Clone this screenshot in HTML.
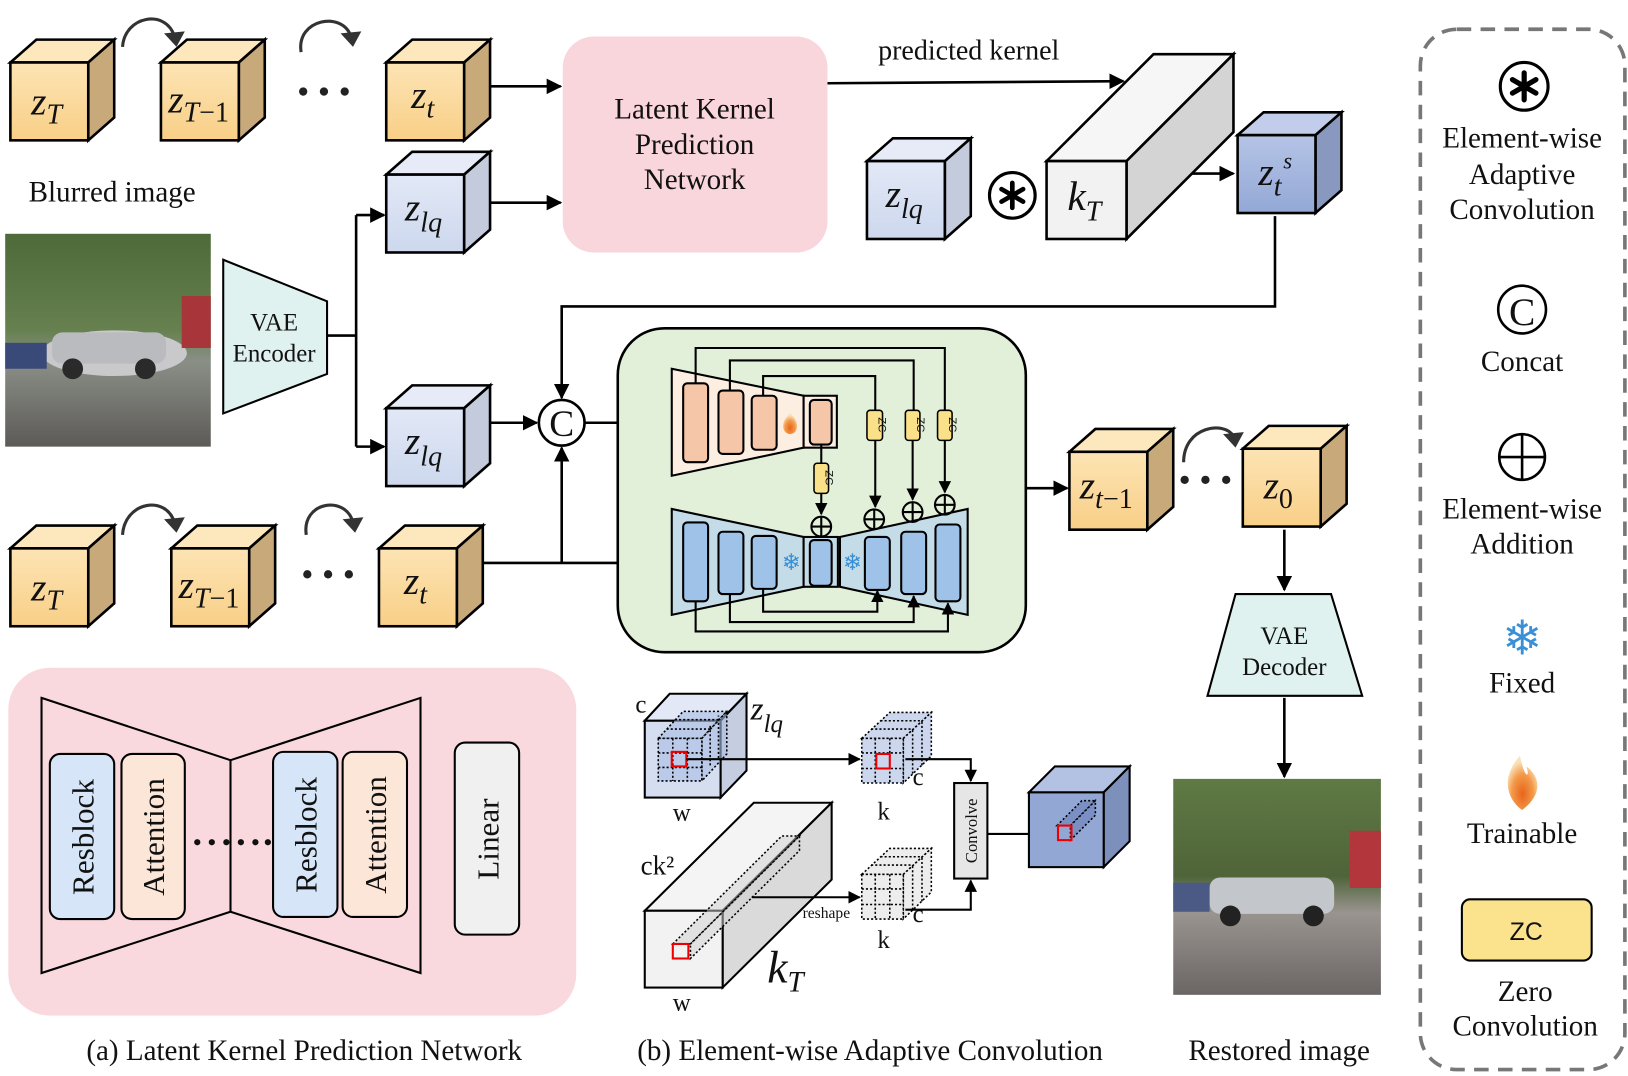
<!DOCTYPE html>
<html><head><meta charset="utf-8"><style>
html,body{margin:0;padding:0;background:#fff}
svg{display:block}
text{font-family:"Liberation Serif",serif;fill:#111}
.zi{font-style:italic}
</style></head><body>
<svg width="1628" height="1076" viewBox="0 0 1568 1036" xmlns="http://www.w3.org/2000/svg">
<defs>
<marker id="ar" viewBox="0 0 10 10" refX="9" refY="5" markerWidth="6" markerHeight="6" orient="auto-start-reverse"><path d="M0,0L10,5L0,10z" fill="#000"/></marker>
<linearGradient id="og" x1="0" y1="0" x2="0" y2="1"><stop offset="0" stop-color="#fde4b4"/><stop offset="1" stop-color="#f8cf87"/></linearGradient>
<linearGradient id="bg" x1="0" y1="0" x2="0" y2="1"><stop offset="0" stop-color="#e2e8f6"/><stop offset="1" stop-color="#cdd8ee"/></linearGradient>
<linearGradient id="dbg" x1="0" y1="0" x2="0" y2="1"><stop offset="0" stop-color="#b5c4e6"/><stop offset="1" stop-color="#93a8d6"/></linearGradient>
<symbol id="oc" overflow="visible"><polygon points="0,0 25,-22 100,-22 75,0" fill="#fde7bd" stroke="#000" stroke-width="2.5"/><polygon points="75,0 100,-22 100,53 75,75" fill="#c8a97a" stroke="#000" stroke-width="2.5"/><rect x="0" y="0" width="75" height="75" fill="url(#og)" stroke="#000" stroke-width="2.5"/></symbol>
<symbol id="bc" overflow="visible"><polygon points="0,0 25,-22 100,-22 75,0" fill="#e6ebf7" stroke="#000" stroke-width="2.5"/><polygon points="75,0 100,-22 100,53 75,75" fill="#c3cbdc" stroke="#000" stroke-width="2.5"/><rect x="0" y="0" width="75" height="75" fill="url(#bg)" stroke="#000" stroke-width="2.5"/></symbol>
<symbol id="dc" overflow="visible"><polygon points="0,0 25,-22 100,-22 75,0" fill="#c1cdea" stroke="#000" stroke-width="2.5"/><polygon points="75,0 100,-22 100,53 75,75" fill="#8898bf" stroke="#000" stroke-width="2.5"/><rect x="0" y="0" width="75" height="75" fill="url(#dbg)" stroke="#000" stroke-width="2.5"/></symbol>
<linearGradient id="sky" x1="0" y1="0" x2="0" y2="1"><stop offset="0" stop-color="#4d6a38"/><stop offset=".45" stop-color="#66804f"/><stop offset=".6" stop-color="#8a8f86"/><stop offset="1" stop-color="#5d5a58"/></linearGradient>
<linearGradient id="sky2" x1="0" y1="0" x2="0" y2="1"><stop offset="0" stop-color="#5f7a44"/><stop offset=".45" stop-color="#4f6439"/><stop offset=".62" stop-color="#9a9490"/><stop offset="1" stop-color="#6a6664"/></linearGradient>
<radialGradient id="fl" cx=".5" cy=".7" r=".6"><stop offset="0" stop-color="#e8641a"/><stop offset=".6" stop-color="#f39a4a"/><stop offset="1" stop-color="#fbe1b8"/></radialGradient>
</defs>

<!-- top row -->
<use href="#oc" x="10" y="60"/><text x="30" y="110" font-size="38" class="zi">z<tspan font-size="27" dy="9">T</tspan></text>
<use href="#oc" x="155" y="60"/><text x="162" y="108" font-size="38" class="zi">z<tspan font-size="27" dy="9">T</tspan><tspan font-size="27" font-style="normal">−1</tspan></text>
<use href="#oc" x="372" y="60"/><text x="396" y="104" font-size="38" class="zi">z<tspan font-size="27" dy="9">t</tspan></text>
<path d="M118,45 C120,15 160,8 168,35" fill="none" stroke="#333" stroke-width="3"/><path d="M158,32 L178,30 L170,45z" fill="#333"/>
<path d="M290,50 C285,18 330,10 338,35" fill="none" stroke="#333" stroke-width="3"/><path d="M328,32 L348,30 L340,45z" fill="#333"/>
<g fill="#222"><circle cx="292" cy="88" r="4"/><circle cx="312" cy="88" r="4"/><circle cx="332" cy="88" r="4"/></g>
<text x="108" y="194" font-size="28" text-anchor="middle">Blurred image</text>

<!-- blurred photo -->
<rect x="5" y="225" width="198" height="205" fill="url(#sky)"/>
<ellipse cx="110" cy="340" rx="70" ry="22" fill="#c9c9cb"/><rect x="50" y="320" width="110" height="30" rx="10" fill="#b9bbbe"/>
<circle cx="70" cy="355" r="10" fill="#2a2a2a"/><circle cx="140" cy="355" r="10" fill="#2a2a2a"/>
<rect x="5" y="330" width="40" height="25" fill="#3a4a78"/><rect x="175" y="285" width="28" height="50" fill="#a8353a"/>

<!-- VAE encoder -->
<polygon points="215,250 315,290 315,360 215,398" fill="#e0f2ef" stroke="#000" stroke-width="2"/>
<text x="264" y="318" font-size="24" text-anchor="middle">VAE</text><text x="264" y="348" font-size="24" text-anchor="middle">Encoder</text>
<g stroke="#000" stroke-width="2.5" fill="none">
<path d="M315,323 H343 M343,207 V430"/>
<path d="M343,207 H370" marker-end="url(#ar)"/><path d="M343,430 H370" marker-end="url(#ar)"/>
<path d="M472,83 H540" marker-end="url(#ar)"/><path d="M472,195 H540" marker-end="url(#ar)"/>
<path d="M797,80 L1082,78" marker-end="url(#ar)"/>
<path d="M1130,167 H1188" marker-end="url(#ar)"/>
<path d="M1228,208 V295 H541 V383" marker-end="url(#ar)"/>
<path d="M472,407 H517" marker-end="url(#ar)"/>
<path d="M563,407 H644" marker-end="url(#ar)"/>
<path d="M465,542 H644" marker-end="url(#ar)"/>
<path d="M541,542 V431" marker-end="url(#ar)"/>
<path d="M988,470 H1028" marker-end="url(#ar)"/>
<path d="M1237,510 V568" marker-end="url(#ar)"/>
<path d="M1237,672 V748" marker-end="url(#ar)"/>
</g>
<use href="#bc" x="372" y="168"/><text x="390" y="212" font-size="38" class="zi">z<tspan font-size="27" dy="11">lq</tspan></text>
<use href="#bc" x="372" y="393"/><text x="390" y="437" font-size="38" class="zi">z<tspan font-size="27" dy="11">lq</tspan></text>

<!-- LKPN -->
<rect x="542" y="35" width="255" height="208" rx="30" fill="#f9d5dc"/>
<text x="669" y="114" font-size="28" text-anchor="middle">Latent Kernel</text>
<text x="669" y="148" font-size="28" text-anchor="middle">Prediction</text>
<text x="669" y="182" font-size="28" text-anchor="middle">Network</text>
<text x="933" y="57" font-size="27" text-anchor="middle">predicted kernel</text>

<use href="#bc" x="835" y="155"/><text x="853" y="199" font-size="38" class="zi">z<tspan font-size="27" dy="11">lq</tspan></text>
<circle cx="975" cy="188" r="22" fill="#fff" stroke="#000" stroke-width="3"/>
<g stroke="#000" stroke-width="4.5" stroke-linecap="round"><path d="M975,176V200M964.6,182L985.4,194M964.6,194L985.4,182"/></g>
<!-- kT -->
<polygon points="1008,155 1111,52 1188,52 1085,155" fill="#f6f6f6" stroke="#000" stroke-width="2.5"/>
<polygon points="1085,155 1188,52 1188,127 1085,230" fill="#d4d4d4" stroke="#000" stroke-width="2.5"/>
<rect x="1008" y="155" width="77" height="75" fill="#f2f2f2" stroke="#000" stroke-width="2.5"/>
<text x="1028" y="202" font-size="40" class="zi">k<tspan font-size="27" dy="10">T</tspan></text>
<use href="#dc" x="1192" y="130"/><text x="1212" y="178" font-size="38" class="zi">z<tspan font-size="27" dy="10">t</tspan></text><text x="1236" y="162" font-size="22" class="zi">s</text>

<circle cx="541" cy="407" r="22" fill="#fff" stroke="#000" stroke-width="2.5"/><text x="541" y="420" font-size="36" text-anchor="middle">C</text>

<!-- bottom row -->
<use href="#oc" x="10" y="528"/><text x="30" y="578" font-size="38" class="zi">z<tspan font-size="27" dy="9">T</tspan></text>
<use href="#oc" x="165" y="528"/><text x="172" y="576" font-size="38" class="zi">z<tspan font-size="27" dy="9">T</tspan><tspan font-size="27" font-style="normal">−1</tspan></text>
<use href="#oc" x="365" y="528"/><text x="389" y="572" font-size="38" class="zi">z<tspan font-size="27" dy="9">t</tspan></text>
<path d="M118,515 C120,483 160,476 168,503" fill="none" stroke="#333" stroke-width="3"/><path d="M158,500 L178,498 L170,513z" fill="#333"/>
<path d="M295,515 C290,483 333,476 340,503" fill="none" stroke="#333" stroke-width="3"/><path d="M330,500 L350,498 L342,513z" fill="#333"/>
<g fill="#222"><circle cx="296" cy="553" r="4"/><circle cx="316" cy="553" r="4"/><circle cx="336" cy="553" r="4"/></g>

<!-- green box -->
<rect x="595" y="316" width="393" height="312" rx="45" fill="#e2efd9" stroke="#000" stroke-width="2.5"/>
<polygon points="647,355 774,381 774,431 647,458" fill="#fdeee2" stroke="#000" stroke-width="2"/>
<rect x="774" y="381" width="32" height="50" fill="#fdeee2" stroke="#000" stroke-width="2"/>
<g fill="#f5c6a7" stroke="#000" stroke-width="2">
<rect x="658" y="369" width="24" height="76" rx="4"/><rect x="692" y="376" width="24" height="61" rx="4"/><rect x="724" y="381" width="24" height="52" rx="4"/><rect x="780" y="385" width="21" height="43" rx="4"/></g>
<path d="M761,398 C752,405 752,417 761,418 C770,417 770,405 761,398z" fill="url(#fl)"/>
<polygon points="647,490 774,517 774,565 647,592" fill="#c4dce7" stroke="#000" stroke-width="2"/>
<rect x="774" y="517" width="33" height="48" fill="#c4dce7" stroke="#000" stroke-width="2"/>
<polygon points="809,517 932,490 932,592 809,565" fill="#c4dce7" stroke="#000" stroke-width="2"/>
<g fill="#9fc3e8" stroke="#000" stroke-width="2">
<rect x="658" y="503" width="24" height="76" rx="4"/><rect x="692" y="512" width="24" height="60" rx="4"/><rect x="724" y="516" width="24" height="51" rx="4"/><rect x="780" y="520" width="21" height="44" rx="4"/><rect x="833" y="517" width="24" height="51" rx="4"/><rect x="868" y="512" width="24" height="60" rx="4"/><rect x="901" y="505" width="24" height="74" rx="4"/></g>
<text x="762" y="549" font-size="22" text-anchor="middle" style="fill:#3a8fd6" font-family="DejaVu Sans">❄</text>
<text x="821" y="549" font-size="22" text-anchor="middle" style="fill:#3a8fd6" font-family="DejaVu Sans">❄</text>
<g stroke="#000" stroke-width="2" fill="none">
<path d="M670,369 V335 H910 V396"/><path d="M703,376 V347 H880 V396"/><path d="M735,381 V362 H843 V396"/>
<path d="M843,424 V488" marker-end="url(#ar)"/><path d="M879,424 V481" marker-end="url(#ar)"/><path d="M910,424 V474" marker-end="url(#ar)"/>
<path d="M791,428 V446"/><path d="M791,475 V495" marker-end="url(#ar)"/>
<path d="M735,567 V589 H845 V569" marker-end="url(#ar)"/><path d="M703,572 V599 H880 V574" marker-end="url(#ar)"/><path d="M670,579 V608 H913 V581" marker-end="url(#ar)"/>
</g>
<g fill="#fbe08a" stroke="#000" stroke-width="1.5"><rect x="835" y="395" width="15" height="29" rx="3"/><rect x="872" y="395" width="14" height="29" rx="3"/><rect x="903" y="395" width="14" height="29" rx="3"/><rect x="784" y="446" width="14" height="29" rx="3"/></g>
<g font-size="11" text-anchor="middle" font-family="Liberation Sans"><text transform="translate(846,409) rotate(90)" style="font-family:'Liberation Sans'">ZC</text><text transform="translate(883,409) rotate(90)" style="font-family:'Liberation Sans'">ZC</text><text transform="translate(914,409) rotate(90)" style="font-family:'Liberation Sans'">ZC</text><text transform="translate(795,460) rotate(90)" style="font-family:'Liberation Sans'">ZC</text></g>
<g fill="none" stroke="#000" stroke-width="2">
<circle cx="791" cy="507" r="9.5"/><path d="M781.5,507H800.5M791,497.5V516.5"/>
<circle cx="842" cy="500" r="9.5"/><path d="M832.5,500H851.5M842,490.5V509.5"/>
<circle cx="879" cy="493" r="9.5"/><path d="M869.5,493H888.5M879,483.5V502.5"/>
<circle cx="910" cy="486" r="9.5"/><path d="M900.5,486H919.5M910,476.5V495.5"/></g>

<!-- right side -->
<use href="#oc" x="1030" y="435"/><text x="1040" y="480" font-size="38" class="zi">z<tspan font-size="27" dy="9">t</tspan><tspan font-size="27" font-style="normal">−1</tspan></text>
<g fill="#222"><circle cx="1141" cy="462" r="4"/><circle cx="1161" cy="462" r="4"/><circle cx="1181" cy="462" r="4"/></g>
<path d="M1140,445 C1140,410 1180,405 1188,420" fill="none" stroke="#333" stroke-width="3"/><path d="M1178,418 L1198,416 L1190,431z" fill="#333"/>
<use href="#oc" x="1197" y="432"/><text x="1217" y="480" font-size="38" class="zi">z<tspan font-size="27" dy="9" font-style="normal">0</tspan></text>
<polygon points="1190,572 1282,572 1312,670 1163,670" fill="#e0f2ef" stroke="#000" stroke-width="2"/>
<text x="1237" y="620" font-size="24" text-anchor="middle">VAE</text><text x="1237" y="650" font-size="24" text-anchor="middle">Decoder</text>
<rect x="1130" y="750" width="200" height="208" fill="url(#sky2)"/>
<rect x="1165" y="845" width="120" height="35" rx="10" fill="#c3c6ca"/><circle cx="1185" cy="882" r="10" fill="#222"/><circle cx="1265" cy="882" r="10" fill="#222"/>
<rect x="1130" y="850" width="35" height="28" fill="#4a5a85"/><rect x="1300" y="800" width="30" height="55" fill="#b3363c"/>
<text x="1232" y="1021" font-size="28" text-anchor="middle">Restored image</text>

<!-- (a) -->
<rect x="8" y="643" width="547" height="335" rx="40" fill="#f9d9de"/>
<path d="M40,672 L222,732 L405,672 V937 L222,878 L40,937 Z M222,732 V878" fill="none" stroke="#000" stroke-width="2"/>
<g stroke="#000" stroke-width="2"><rect x="48" y="726" width="62" height="159" rx="10" fill="#d6e6f8"/><rect x="117" y="726" width="61" height="159" rx="10" fill="#fce6d7"/><rect x="263" y="724" width="62" height="159" rx="10" fill="#d6e6f8"/><rect x="330" y="724" width="62" height="159" rx="10" fill="#fce6d7"/><rect x="438" y="715" width="62" height="185" rx="10" fill="#f0f0f0"/></g>
<g font-size="30" text-anchor="middle"><text transform="translate(90,806) rotate(-90)">Resblock</text><text transform="translate(158,806) rotate(-90)">Attention</text><text transform="translate(305,804) rotate(-90)">Resblock</text><text transform="translate(372,804) rotate(-90)">Attention</text><text transform="translate(480,808) rotate(-90)">Linear</text></g>
<g fill="#111"><circle cx="190" cy="811" r="3"/><circle cx="204" cy="811" r="3"/><circle cx="218" cy="811" r="3"/><circle cx="232" cy="811" r="3"/><circle cx="246" cy="811" r="3"/><circle cx="258" cy="811" r="3"/></g>
<text x="293" y="1021" font-size="28" text-anchor="middle">(a) Latent Kernel Prediction Network</text>

<!-- (b) -->
<polygon points="621,694 645,668 719,668 694,694" fill="#e2e8f6" stroke="#000" stroke-width="2"/>
<polygon points="694,694 719,668 719,742 694,768" fill="#c5cde0" stroke="#000" stroke-width="2"/>
<rect x="621" y="694" width="73" height="74" fill="#d5def0" stroke="#000" stroke-width="2"/>
<g fill="#a9bde2" fill-opacity=".6" stroke="#000" stroke-width="1.5" stroke-dasharray="2,2">
<polygon points="634,711 658,685 700,685 676,711"/><polygon points="676,711 700,685 700,726 676,752"/><rect x="634" y="711" width="42" height="41"/>
<path d="M648,711V752M662,711V752M634,725H676M634,739H676M642,702L684,702M650,693L692,693M684,737V697M692,730V689" fill="none"/></g>
<rect x="647" y="724" width="14" height="14" fill="none" stroke="#e00" stroke-width="2"/>
<text x="612" y="686" font-size="24">c</text><text x="648" y="790" font-size="24">w</text>
<text x="723" y="693" font-size="32" class="zi">z<tspan font-size="24" dy="12">lq</tspan></text>
<path d="M661,731 H828" stroke="#000" stroke-width="2" marker-end="url(#ar)"/>
<g fill="#b7c6e6" fill-opacity=".7" stroke="#000" stroke-width="1.5" stroke-dasharray="2,2">
<polygon points="830,711 857,686 897,686 870,711"/><polygon points="870,711 897,686 897,728 870,754"/><rect x="830" y="711" width="40" height="43"/>
<path d="M843,711V754M857,711V754M830,725H870M830,740H870M839,702L879,702M848,694L888,694M879,745V703M888,737V694" fill="none"/></g>
<rect x="844" y="726" width="13" height="14" fill="none" stroke="#e00" stroke-width="2"/>
<text x="879" y="756" font-size="24">c</text><text x="845" y="789" font-size="24">k</text>
<g fill="#e6e6e6" fill-opacity=".7" stroke="#000" stroke-width="1.5" stroke-dasharray="2,2">
<polygon points="830,842 857,817 897,817 870,842"/><polygon points="870,842 897,817 897,859 870,885"/><rect x="830" y="842" width="40" height="43"/>
<path d="M843,842V885M857,842V885M830,856H870M830,871H870M839,833L879,833M848,825L888,825M879,876V834M888,868V825" fill="none"/></g>
<text x="879" y="888" font-size="24">c</text><text x="845" y="913" font-size="24">k</text>
<g stroke="#000" stroke-width="2" fill="none"><path d="M872,731 H935 V752" marker-end="url(#ar)"/><path d="M872,876 H935 V848" marker-end="url(#ar)"/><path d="M951,803 H1016" marker-end="url(#ar)"/></g>
<rect x="919" y="754" width="32" height="92" fill="#e6e6e6" stroke="#000" stroke-width="2"/>
<text transform="translate(941,800) rotate(-90)" font-size="16" text-anchor="middle">Convolve</text>
<polygon points="621,877 726,773 801,773 696,877" fill="#f4f4f4" stroke="#000" stroke-width="2"/>
<polygon points="696,877 801,773 801,847 696,951" fill="#dadada" stroke="#000" stroke-width="2"/>
<rect x="621" y="877" width="75" height="74" fill="#f2f2f2" stroke="#000" stroke-width="2"/>
<g stroke="#000" stroke-width="1.5" stroke-dasharray="2,2" fill="#d0d0d0" fill-opacity=".5"><polygon points="648,909 753,805 770,805 665,909"/><polygon points="665,909 770,805 770,819 665,923"/></g>
<rect x="648" y="909" width="15" height="14" fill="none" stroke="#e00" stroke-width="2"/>
<path d="M724,864 H828" stroke="#000" stroke-width="2" marker-end="url(#ar)"/>
<text x="773" y="884" font-size="15">reshape</text>
<text x="617" y="842" font-size="26">ck²</text><text x="648" y="973" font-size="24">w</text>
<text x="739" y="946" font-size="44" class="zi">k<tspan font-size="28" dy="9">T</tspan></text>
<polygon points="991,763 1016,738 1088,738 1063,763" fill="#b3c2e3" stroke="#000" stroke-width="2"/>
<polygon points="1063,763 1088,738 1088,810 1063,835" fill="#7d8fbb" stroke="#000" stroke-width="2"/>
<rect x="991" y="763" width="72" height="72" fill="#93a7d5" stroke="#000" stroke-width="2"/>
<g stroke="#000" stroke-width="1.5" stroke-dasharray="2,2" fill="#7a90c4"><polygon points="1018,795 1042,771 1055,771 1031,795"/><polygon points="1031,795 1055,771 1055,785 1031,809"/></g>
<rect x="1019" y="795" width="13" height="14" fill="none" stroke="#e00" stroke-width="2"/>
<text x="838" y="1021" font-size="28" text-anchor="middle">(b) Element-wise Adaptive Convolution</text>

<!-- legend -->
<rect x="1368" y="28" width="197" height="1002" rx="35" fill="none" stroke="#777" stroke-width="3.5" stroke-dasharray="14,9"/>
<circle cx="1468" cy="83" r="23" fill="#fff" stroke="#000" stroke-width="3"/>
<g stroke="#000" stroke-width="5" stroke-linecap="round"><path d="M1468,70V96M1456.7,76.5L1479.3,89.5M1456.7,89.5L1479.3,76.5"/></g>
<g font-size="28" text-anchor="middle">
<text x="1466" y="142">Element-wise</text><text x="1466" y="177">Adaptive</text><text x="1466" y="211">Convolution</text>
<text x="1466" y="357">Concat</text>
<text x="1466" y="499">Element-wise</text><text x="1466" y="533">Addition</text>
<text x="1466" y="667">Fixed</text><text x="1466" y="812">Trainable</text>
<text x="1469" y="964">Zero</text><text x="1469" y="997">Convolution</text></g>
<circle cx="1466" cy="298" r="23" fill="#fff" stroke="#000" stroke-width="2.5"/><text x="1466" y="313" font-size="38" text-anchor="middle">C</text>
<circle cx="1466" cy="440" r="22" fill="none" stroke="#000" stroke-width="2.5"/><path d="M1444,440H1488M1466,418V462" stroke="#000" stroke-width="2.5"/>
<text x="1466" y="630" font-size="46" text-anchor="middle" style="fill:#3a8fd6" font-family="DejaVu Sans">❄</text>
<path d="M1464,728 C1450,742 1446,765 1466,780 C1486,765 1484,748 1470,738 C1474,748 1469,752 1464,728z" fill="url(#fl)"/>
<rect x="1408" y="866" width="125" height="59" rx="8" fill="#fbe38e" stroke="#000" stroke-width="2"/>
<text x="1470" y="905" font-size="24" text-anchor="middle" style="font-family:'Liberation Sans'">ZC</text>
</svg>
</body></html>
